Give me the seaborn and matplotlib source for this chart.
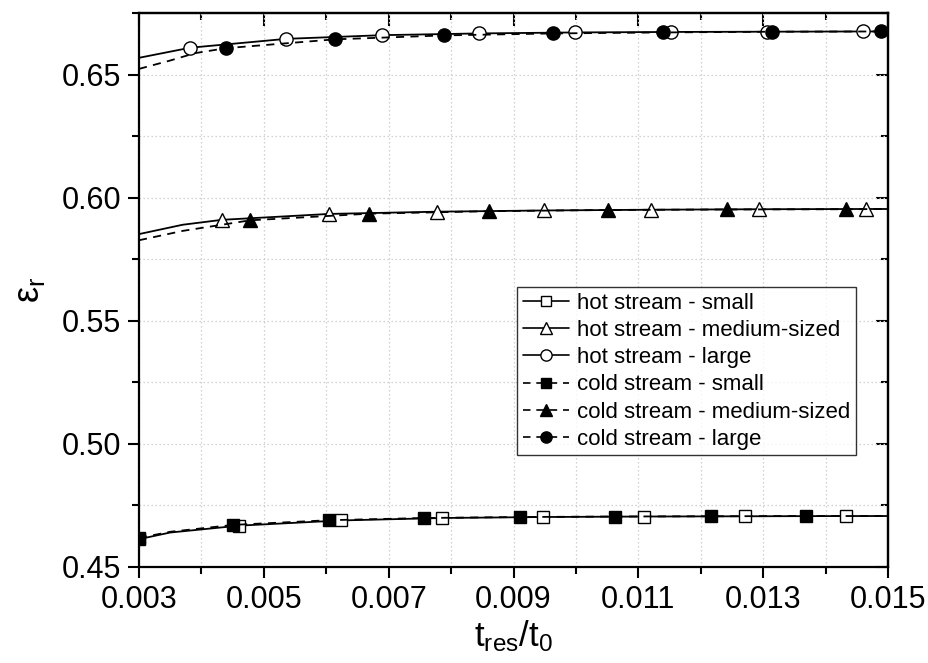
import matplotlib
matplotlib.use("Agg")
import matplotlib.pyplot as plt
from matplotlib.lines import Line2D
from matplotlib.ticker import MultipleLocator, FormatStrFormatter
import seaborn as sns

# ---- data ----
series_labels = ["hot stream - small", "hot stream - medium-sized", "hot stream - large",
                 "cold stream - small", "cold stream - medium-sized", "cold stream - large"]

x_hot_small = [0.0030, 0.0035, 0.00461, 0.00623, 0.00785, 0.00947, 0.01109, 0.01271, 0.01433, 0.0150]
y_hot_small = [0.4613, 0.4640, 0.4668, 0.4689, 0.4699, 0.4703, 0.4705, 0.4706, 0.4707, 0.4707]
m_hot_small = [0, 2, 3, 4, 5, 6, 7, 8]

x_hot_medium = [0.0030, 0.0037, 0.00433, 0.00605, 0.00777, 0.00949, 0.01121, 0.01293, 0.01465, 0.0150]
y_hot_medium = [0.5852, 0.5890, 0.5910, 0.5934, 0.5943, 0.5948, 0.5951, 0.5953, 0.5954, 0.5954]
m_hot_medium = [2, 3, 4, 5, 6, 7, 8]

x_hot_large = [0.0030, 0.00382, 0.00536, 0.00690, 0.00844, 0.00998, 0.01152, 0.01306, 0.01460, 0.0150]
y_hot_large = [0.6568, 0.6609, 0.6645, 0.6660, 0.6667, 0.6671, 0.6673, 0.6674, 0.6675, 0.6675]
m_hot_large = [1, 2, 3, 4, 5, 6, 7, 8]

x_cold_small = [0.0030, 0.0035, 0.00451, 0.00604, 0.00757, 0.00910, 0.01063, 0.01216, 0.01369, 0.0150]
y_cold_small = [0.4618, 0.4643, 0.4671, 0.4690, 0.4699, 0.4703, 0.4705, 0.4706, 0.4707, 0.4707]
m_cold_small = [0, 2, 3, 4, 5, 6, 7, 8]

x_cold_medium = [0.0030, 0.0037, 0.00478, 0.00669, 0.00860, 0.01051, 0.01242, 0.01433, 0.0150]
y_cold_medium = [0.5827, 0.5865, 0.5908, 0.5935, 0.5945, 0.5950, 0.5952, 0.5953, 0.5954]
m_cold_medium = [2, 3, 4, 5, 6, 7]

x_cold_large = [0.0030, 0.0035, 0.0039, 0.00439, 0.00614, 0.00789, 0.00964, 0.01139, 0.01314, 0.01489, 0.0150]
y_cold_large = [0.6523, 0.6557, 0.6587, 0.6607, 0.6643, 0.6659, 0.6667, 0.6671, 0.6674, 0.6675, 0.6675]
m_cold_large = [3, 4, 5, 6, 7, 8, 9]

x_ticks = [0.003, 0.005, 0.007, 0.009, 0.011, 0.013, 0.015]
y_ticks = [0.45, 0.50, 0.55, 0.60, 0.65]

# ---- style ----
sns.set_style("ticks")
plt.rcParams["font.family"] = ["Liberation Sans", "DejaVu Sans"]
plt.rcParams["mathtext.fontset"] = "custom"
plt.rcParams["mathtext.rm"] = "Liberation Sans"
plt.rcParams["mathtext.it"] = "Liberation Sans"
for k in ["text.color", "axes.labelcolor", "xtick.color", "ytick.color", "axes.edgecolor"]:
    plt.rcParams[k] = "black"

fig = plt.figure(figsize=(9.29, 6.63), dpi=100)
ax = fig.add_axes([0.1496, 0.1448, 0.8063, 0.8356])

dash = (0, (4.5, 3.5))
specs = [
    (x_hot_small, y_hot_small, m_hot_small, "s", "white", "-"),
    (x_hot_medium, y_hot_medium, m_hot_medium, "^", "white", "-"),
    (x_hot_large, y_hot_large, m_hot_large, "o", "white", "-"),
    (x_cold_small, y_cold_small, m_cold_small, "s", "black", dash),
    (x_cold_medium, y_cold_medium, m_cold_medium, "^", "black", dash),
    (x_cold_large, y_cold_large, m_cold_large, "o", "black", dash),
]
msize = {"s": 8.5, "^": 10, "o": 9.5}

for xs, ys, mk, marker, fc, ls in specs:
    sns.lineplot(x=xs, y=ys, ax=ax, color="black", linestyle=ls, linewidth=1.3,
                 marker=marker, markevery=mk, markersize=msize[marker],
                 markerfacecolor=fc, markeredgecolor="black", markeredgewidth=1.0,
                 estimator=None, sort=False, legend=False)

ax.set_xlim(0.003, 0.015)
ax.set_ylim(0.45, 0.675)
ax.set_xticks(x_ticks)
ax.set_yticks(y_ticks)
ax.xaxis.set_minor_locator(MultipleLocator(0.001))
ax.yaxis.set_minor_locator(MultipleLocator(0.025))
ax.xaxis.set_major_formatter(FormatStrFormatter("%.3f"))
ax.yaxis.set_major_formatter(FormatStrFormatter("%.2f"))
ax.grid(True, which="both", linestyle=(0, (1.2, 2.0)), color="#cfcfcf", linewidth=0.9)
ax.set_axisbelow(True)

ax.tick_params(which="major", direction="out", length=8, width=1.5, labelsize=22, pad=5)
ax.tick_params(which="minor", direction="out", length=5, width=1.5)
for s in ax.spines.values():
    s.set_linewidth(1.6)
    s.set_visible(True)

top = ax.secondary_xaxis("top")
top.set_xticks(x_ticks)
top.xaxis.set_minor_locator(MultipleLocator(0.001))
top.tick_params(which="major", direction="in", length=9, width=1.5, labeltop=False)
top.tick_params(which="minor", direction="in", length=5, width=1.5)
top.spines["top"].set_linewidth(1.6)
right = ax.secondary_yaxis("right")
right.set_yticks(y_ticks)
right.yaxis.set_minor_locator(MultipleLocator(0.025))
right.tick_params(which="major", direction="in", length=9, width=1.5, labelright=False)
right.tick_params(which="minor", direction="in", length=5, width=1.5)
right.spines["right"].set_linewidth(1.6)

ax.set_xlabel(r"$\mathrm{t_{res}/t_0}$", fontsize=25, labelpad=2)
ax.set_ylabel(r"$\mathrm{ε_r}$", fontsize=26, labelpad=10)

handles = []
for xs, ys, mk, marker, fc, ls in specs:
    handles.append(Line2D([], [], color="black", linestyle=ls, linewidth=1.2,
                          marker=marker, markersize=msize[marker] * 0.85,
                          markerfacecolor=fc, markeredgecolor="black"))
leg = ax.legend(handles, series_labels, loc="upper left", bbox_to_anchor=(0.5047, 0.505),
                fontsize=16, frameon=True, fancybox=False, edgecolor="black",
                handlelength=2.1, handletextpad=0.35, labelspacing=0.28,
                borderpad=0.25, borderaxespad=0.0)
leg.get_frame().set_linewidth(1.0)

fig.savefig("out.png", dpi=100)
